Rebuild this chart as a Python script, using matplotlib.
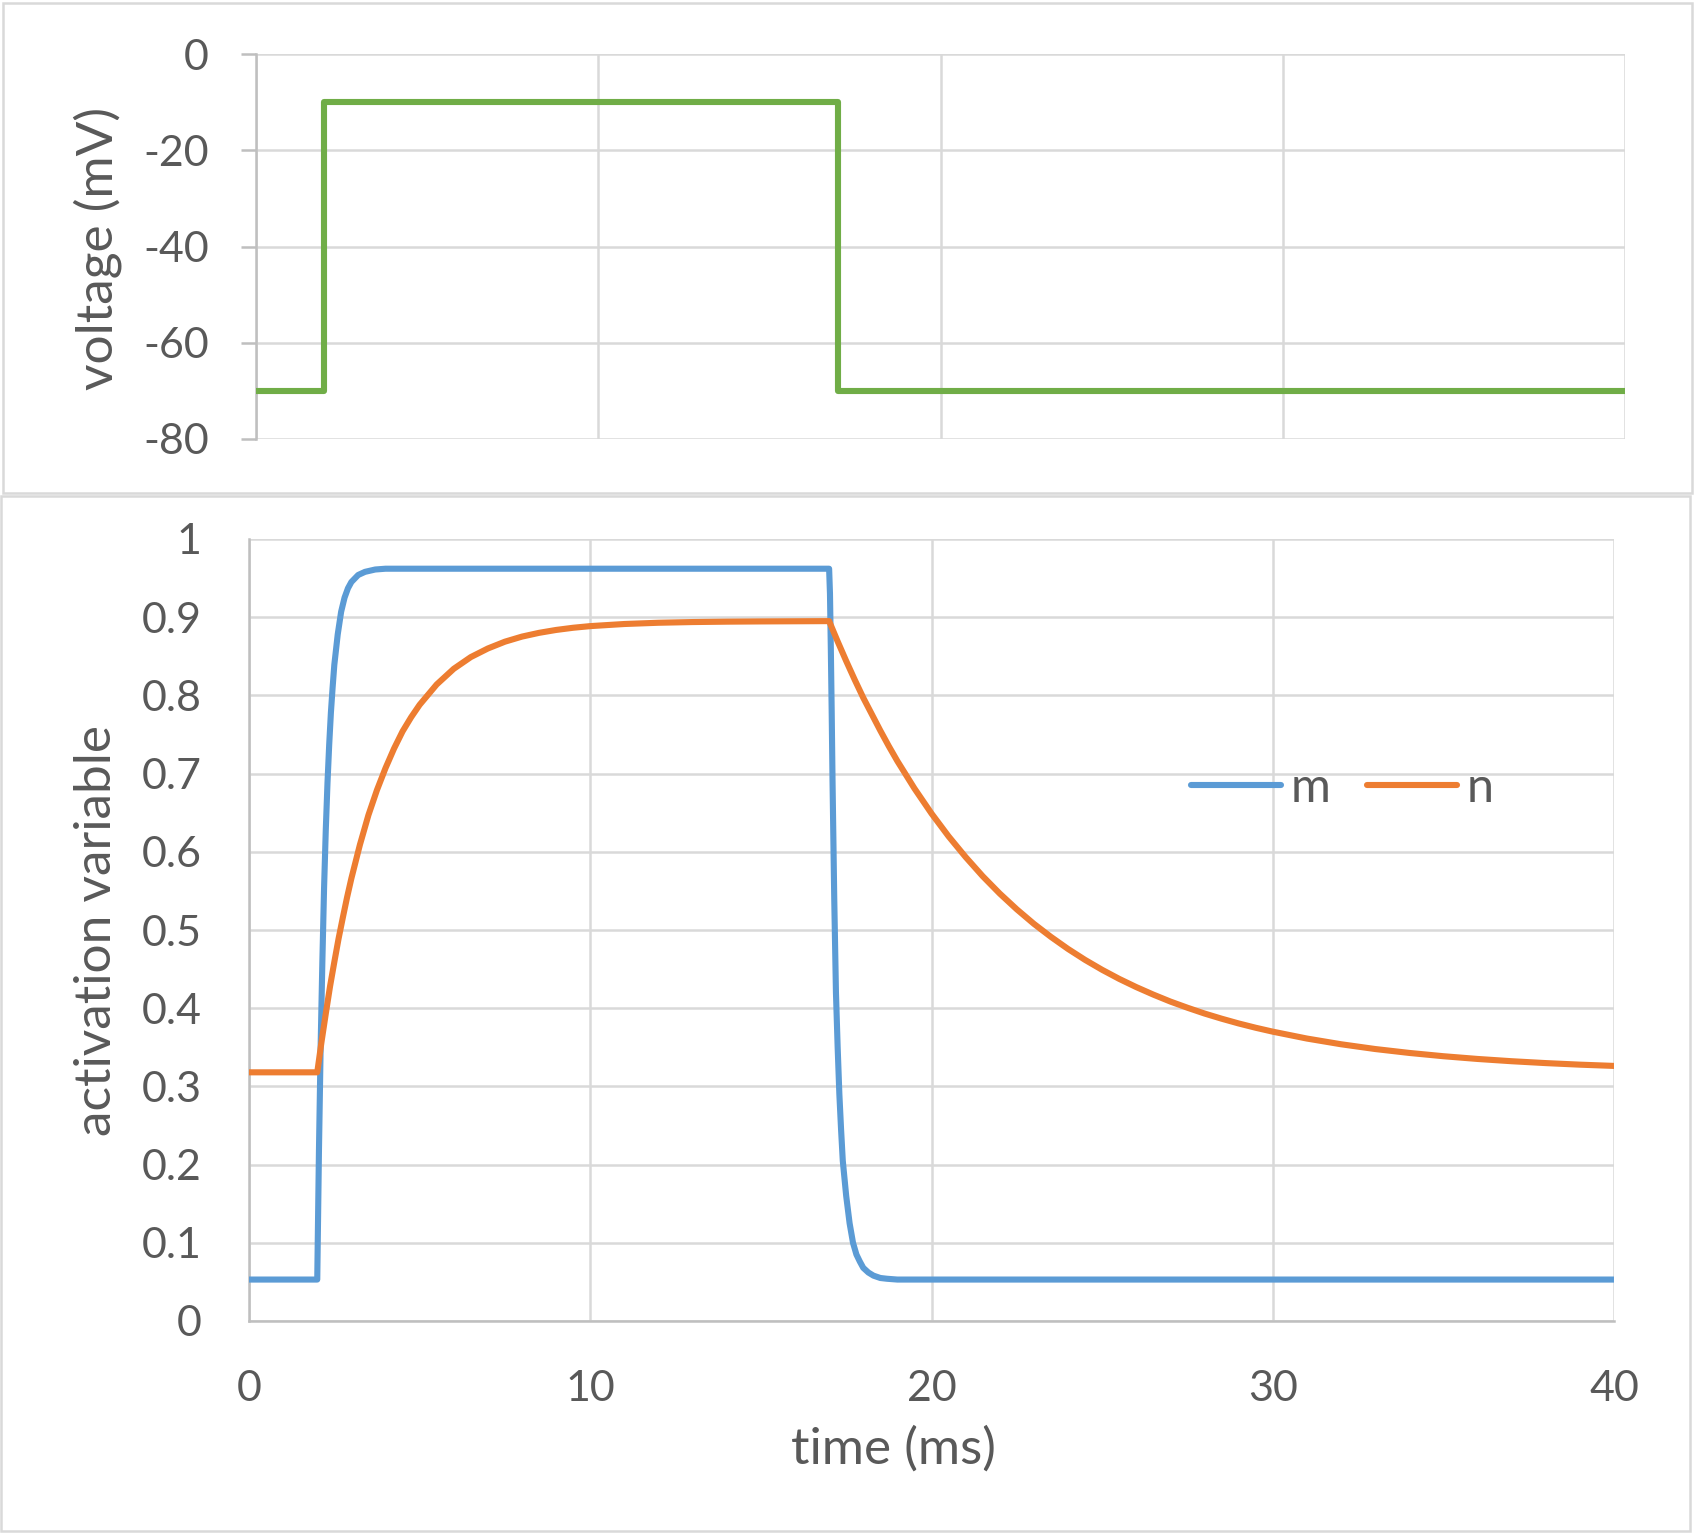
import numpy as np
import matplotlib.pyplot as plt
from matplotlib.patches import Rectangle

plt.rcParams['font.family'] = ['Lato', 'DejaVu Sans']
plt.rcParams['axes.unicode_minus'] = False

# clamp protocol (top panel)
v_time = [0, 2, 2, 17, 17, 40]
v_mv = [-70, -70, -10, -10, -70, -70]

# activation variables
m_time = [0, 2.0, 2.05, 2.1, 2.15, 2.2, 2.25, 2.3, 2.35, 2.4, 2.45, 2.5, 2.6, 2.7,
          2.8, 2.9, 3.0, 3.2, 3.4, 3.7, 4.0, 17.0, 17.025, 17.05, 17.075, 17.1,
          17.15, 17.2, 17.25, 17.3, 17.35, 17.4, 17.5, 17.6, 17.7, 17.8, 17.9,
          18.0, 18.15, 18.3, 18.5, 18.7, 19.0, 40]
m_val = [0.053, 0.053, 0.218, 0.353, 0.46, 0.554, 0.628, 0.688, 0.737, 0.778,
         0.81, 0.839, 0.878, 0.907, 0.925, 0.937, 0.945, 0.954, 0.958, 0.961,
         0.962, 0.962, 0.93, 0.86, 0.78, 0.69, 0.54, 0.42, 0.35, 0.29, 0.245,
         0.205, 0.16, 0.125, 0.10, 0.085, 0.076, 0.068, 0.062, 0.058, 0.055,
         0.054, 0.053, 0.053]

n_time = [0, 2.0, 2.125, 2.25, 2.375, 2.5, 2.625, 2.75, 2.875, 3.0, 3.25, 3.5,
          3.75, 4.0, 4.25, 4.5, 4.75, 5.0, 5.5, 6.0, 6.5, 7.0, 7.5, 8.0, 8.5, 9.0,
          9.5, 10, 11, 12, 13, 14, 15, 17.0, 17.25, 17.5, 17.75, 18.0, 18.25,
          18.5, 18.75, 19.0, 19.5, 20.0, 20.5, 21.0, 21.5, 22.0, 22.5, 23.0,
          23.5, 24.0, 24.5, 25, 25.5, 26, 26.5, 27, 27.5, 28, 28.5, 29, 29.5,
          30, 31, 32, 33, 34, 35, 36, 37, 38, 39, 40]
n_val = [0.318, 0.318, 0.357, 0.393, 0.428, 0.459, 0.489, 0.516, 0.542, 0.566,
         0.609, 0.647, 0.679, 0.707, 0.732, 0.754, 0.772, 0.788, 0.814, 0.834,
         0.849, 0.8600, 0.8687, 0.8752, 0.8800, 0.8837, 0.8865, 0.8886, 0.8913,
         0.8929, 0.8938, 0.8943, 0.8946, 0.895, 0.869, 0.844, 0.820, 0.797,
         0.776, 0.755, 0.735, 0.716, 0.681, 0.649, 0.6198, 0.5933, 0.5688,
         0.5466, 0.5264, 0.5079, 0.4912, 0.4758, 0.4618, 0.4491, 0.4375,
         0.4270, 0.4174, 0.4085, 0.4006, 0.3932, 0.3866, 0.3805, 0.3750,
         0.3700, 0.3612, 0.3539, 0.3478, 0.3428, 0.3386, 0.3351, 0.3322,
         0.3298, 0.3278, 0.3262]

W, H = 1695, 1534
txt = '#595959'
grid_c = '#D9D9D9'
axis_c = '#BFBFBF'
fs = 31
lfs = 37
lw = 4.4

fig = plt.figure(figsize=(W / 100, H / 100), dpi=100)

# chart frames
fig.add_artist(Rectangle((3 / W, 1 - 493 / H), (1692 - 3) / W, (493 - 3) / H,
                         transform=fig.transFigure, fill=False, ec=grid_c, lw=1.8))
fig.add_artist(Rectangle((1 / W, 1 - 1531 / H), (1690 - 1) / W, (1531 - 496) / H,
                         transform=fig.transFigure, fill=False, ec=grid_c, lw=1.8))

# top: voltage
ax1 = fig.add_axes([256 / W, 1 - 439 / H, 1369 / W, 385 / H])
ax1.plot(v_time, v_mv, color='#70AD47', lw=lw, solid_joinstyle='round',
         solid_capstyle='round', zorder=3)
ax1.set_xlim(0, 40)
ax1.set_ylim(-80, 0)
ax1.set_xticks([0, 10, 20, 30, 40])
ax1.set_yticks([0, -20, -40, -60, -80])
ax1.grid(True, color=grid_c, lw=1.8)
for s in ['top', 'right', 'bottom']:
    ax1.spines[s].set_visible(False)
ax1.spines['left'].set_color(axis_c)
ax1.spines['left'].set_linewidth(1.8)
ax1.tick_params(axis='x', length=0, labelbottom=False)
ax1.tick_params(axis='y', length=11, width=1.8, color=axis_c, pad=23,
                labelsize=fs, labelcolor=txt)
ax1.set_ylabel('voltage (mV)', fontsize=lfs, color=txt)
ax1.yaxis.set_label_coords(-0.1154, 0.496)
ax1.yaxis.label.set_va('center')

# bottom: gating variables
ax2 = fig.add_axes([249 / W, 1 - 1321 / H, 1365 / W, 782 / H])
ax2.plot(m_time, m_val, color='#5B9BD5', lw=lw, solid_joinstyle='round',
         solid_capstyle='round', label='m', zorder=3)
ax2.plot(n_time, n_val, color='#ED7D31', lw=lw, solid_joinstyle='round',
         solid_capstyle='round', label='n', zorder=3)
ax2.set_xlim(0, 40)
ax2.set_ylim(0, 1)
ax2.set_xticks([0, 10, 20, 30, 40])
ax2.set_yticks(np.arange(11) / 10)
ax2.set_yticklabels(['0', '0.1', '0.2', '0.3', '0.4', '0.5', '0.6', '0.7',
                     '0.8', '0.9', '1'])
ax2.grid(True, color=grid_c, lw=1.8)
for s in ['top', 'right']:
    ax2.spines[s].set_visible(False)
for s in ['left', 'bottom']:
    ax2.spines[s].set_color(axis_c)
    ax2.spines[s].set_linewidth(1.8)
ax2.tick_params(axis='both', length=0, labelsize=fs, labelcolor=txt)
ax2.tick_params(axis='y', pad=34)
ax2.tick_params(axis='x', pad=35)
ax2.set_xlabel('time (ms)', fontsize=lfs, color=txt)
ax2.xaxis.set_label_coords(0.4725, -0.164)
ax2.xaxis.label.set_va('center')
ax2.set_ylabel('activation variable', fontsize=lfs, color=txt)
ax2.yaxis.set_label_coords(-0.1114, 0.5)
ax2.yaxis.label.set_va('center')

leg = ax2.legend(loc='center', bbox_to_anchor=(0.801, 0.682), ncol=2,
                 frameon=False, fontsize=35, handlelength=1.85,
                 handletextpad=0.2, columnspacing=0.75, borderpad=0)
for t in leg.get_texts():
    t.set_color(txt)

fig.savefig('out.png', dpi=100)
